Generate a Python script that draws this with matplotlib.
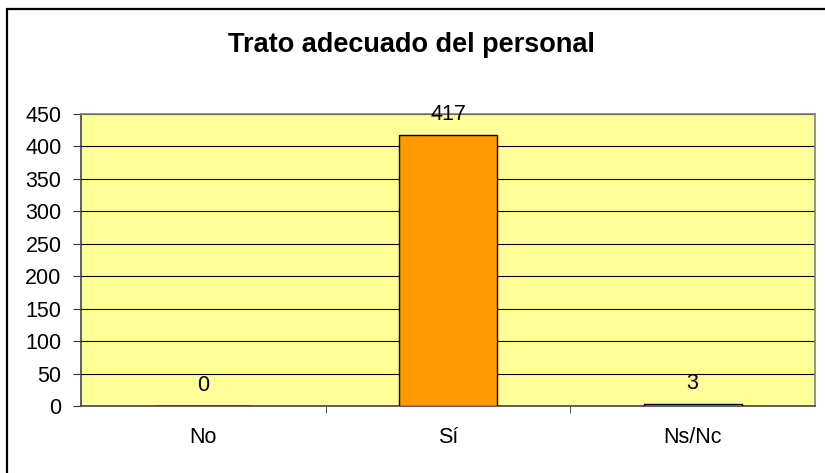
import matplotlib
matplotlib.use("Agg")
from matplotlib import pyplot as plt
from matplotlib.patches import Rectangle

categories = ["No", "Sí", "Ns/Nc"]
values = [0, 417, 3]
yticks = [0, 50, 100, 150, 200, 250, 300, 350, 400, 450]
title = "Trato adecuado del personal"

plt.rcParams['font.family'] = ['Liberation Sans', 'DejaVu Sans']

W, H = 825, 473
fig = plt.figure(figsize=(W / 100, H / 100), dpi=100)

# outer chart frame (left and top edges visible)
fig.patches.append(Rectangle((7 / W, -0.1), 1.2, 1 - 9 / H + 0.1,
                             transform=fig.transFigure, fill=False,
                             edgecolor='black', linewidth=1.6))

left, right, top, bottom = 81, 815, 114, 406
ax = fig.add_axes([left / W, 1 - bottom / H, (right - left) / W, (bottom - top) / H])
ax.set_facecolor('#FFFF99')

x = list(range(len(categories)))
ax.bar(x, values, width=0.4, color='#FF9900', edgecolor='black', linewidth=1.0, zorder=3)

ax.set_xlim(-0.5, len(categories) - 0.5)
ax.set_ylim(0, 450)
ax.set_yticks(yticks)
ax.set_yticklabels([str(t) for t in yticks], fontsize=15.5)
ax.yaxis.grid(True, color='black', linewidth=0.8, zorder=1)
ax.set_axisbelow(True)

# categories centered, ticks on boundaries
ax.set_xticks(x)
ax.set_xticklabels(categories, fontsize=15.5)
ax.tick_params(axis='x', length=0, pad=15)
ax.set_xticks([0.5, 1.5], minor=True)
ax.tick_params(axis='x', which='minor', length=5, direction='out', color='#333333')
ax.tick_params(axis='y', length=6, direction='out', color='#333333', pad=8)

for s in ['left', 'bottom']:
    ax.spines[s].set_color('#444444')
    ax.spines[s].set_linewidth(1.2)
for s in ['top', 'right']:
    ax.spines[s].set_color('#808080')
    ax.spines[s].set_linewidth(1.2)

for xi, v in zip(x, values):
    ax.annotate(str(v), (xi, v), xytext=(0, 15), textcoords='offset points',
                ha='center', va='center', fontsize=15.5, zorder=4)

fig.text(411 / W, 1 - 45 / H, title, ha='center', va='center',
         fontsize=19.5, fontweight='bold')

fig.savefig("out.png", dpi=100)
